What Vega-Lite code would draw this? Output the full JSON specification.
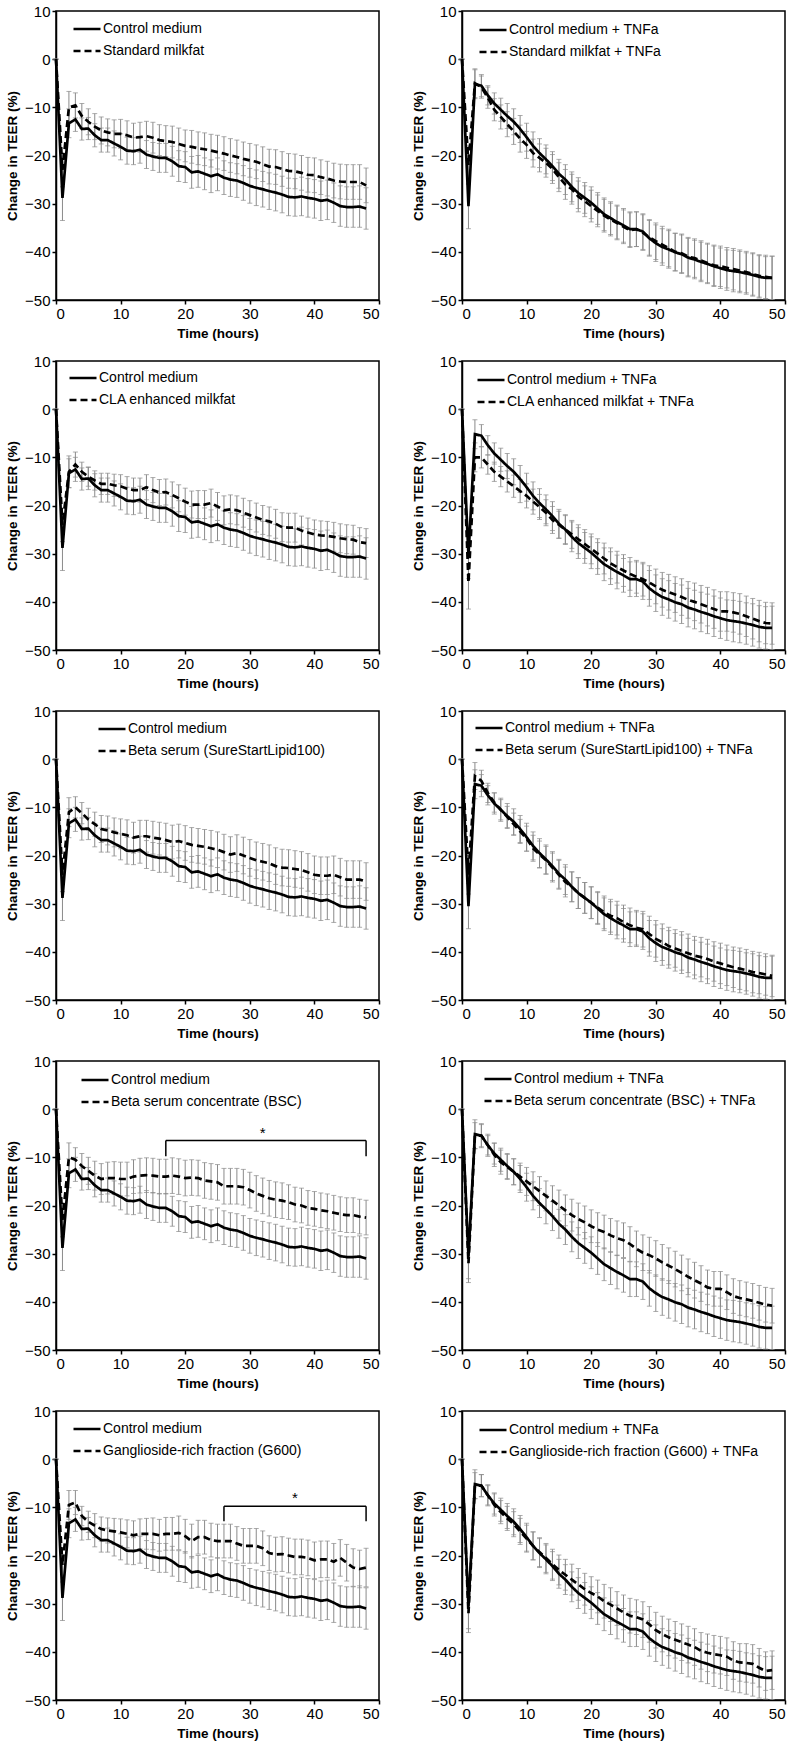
{
"$schema":"https://vega.github.io/schema/vega-lite/v6.json",
"padding":{"left":4,"top":3,"right":5,"bottom":5},
"datasets":{
"ctrl":[{"t":0,"y":0,"e":0},{"t":1,"y":-28.8,"e":4.7},{"t":2,"y":-13.3,"e":3},{"t":3,"y":-12.5,"e":2.5},{"t":4,"y":-14.5,"e":2.3},{"t":5,"y":-14.4,"e":2.3},{"t":6,"y":-15.8,"e":2.4},{"t":7,"y":-16.8,"e":2.5},{"t":8,"y":-16.8,"e":2.5},{"t":9,"y":-17.5,"e":2.6},{"t":10,"y":-18.2,"e":2.7},{"t":11,"y":-19,"e":2.8},{"t":12,"y":-19.1,"e":2.8},{"t":13,"y":-18.8,"e":2.8},{"t":14,"y":-19.8,"e":2.9},{"t":15,"y":-20.2,"e":2.9},{"t":16,"y":-20.5,"e":3},{"t":17,"y":-20.5,"e":3},{"t":18,"y":-21.2,"e":3.1},{"t":19,"y":-22.2,"e":3.2},{"t":20,"y":-22.4,"e":3.2},{"t":21,"y":-23.5,"e":3.3},{"t":22,"y":-23.3,"e":3.3},{"t":23,"y":-23.8,"e":3.3},{"t":24,"y":-24.3,"e":3.4},{"t":25,"y":-23.9,"e":3.4},{"t":26,"y":-24.6,"e":3.5},{"t":27,"y":-25,"e":3.5},{"t":28,"y":-25.2,"e":3.5},{"t":29,"y":-25.7,"e":3.6},{"t":30,"y":-26.3,"e":3.6},{"t":31,"y":-26.7,"e":3.7},{"t":32,"y":-27,"e":3.7},{"t":33,"y":-27.4,"e":3.8},{"t":34,"y":-27.7,"e":3.8},{"t":35,"y":-28.1,"e":3.8},{"t":36,"y":-28.6,"e":3.9},{"t":37,"y":-28.7,"e":3.9},{"t":38,"y":-28.5,"e":4},{"t":39,"y":-28.8,"e":4},{"t":40,"y":-29,"e":4},{"t":41,"y":-29.4,"e":4.1},{"t":42,"y":-29.2,"e":4.1},{"t":43,"y":-29.8,"e":4.1},{"t":44,"y":-30.5,"e":4.2},{"t":45,"y":-30.7,"e":4.2},{"t":46,"y":-30.7,"e":4.2},{"t":47,"y":-30.6,"e":4.3},{"t":48,"y":-31,"e":4.3}],
"smf":[{"t":0,"y":0,"e":0},{"t":1,"y":-23,"e":3.5},{"t":2,"y":-10,"e":3.3},{"t":3,"y":-9.6,"e":2.6},{"t":4,"y":-11.8,"e":2.6},{"t":5,"y":-13,"e":2.7},{"t":6,"y":-14,"e":2.7},{"t":7,"y":-14.8,"e":2.8},{"t":8,"y":-15.2,"e":2.8},{"t":9,"y":-15.5,"e":2.9},{"t":10,"y":-15.5,"e":3},{"t":11,"y":-15.8,"e":3},{"t":12,"y":-16.3,"e":3},{"t":13,"y":-16.2,"e":3.1},{"t":14,"y":-16,"e":3.1},{"t":15,"y":-16.3,"e":3.2},{"t":16,"y":-16.8,"e":3.2},{"t":17,"y":-17,"e":3.2},{"t":18,"y":-17.2,"e":3.3},{"t":19,"y":-17.6,"e":3.3},{"t":20,"y":-18,"e":3.3},{"t":21,"y":-18.2,"e":3.4},{"t":22,"y":-18.5,"e":3.4},{"t":23,"y":-18.7,"e":3.4},{"t":24,"y":-19,"e":3.4},{"t":25,"y":-19.3,"e":3.5},{"t":26,"y":-19.6,"e":3.5},{"t":27,"y":-20,"e":3.5},{"t":28,"y":-20.3,"e":3.5},{"t":29,"y":-20.7,"e":3.5},{"t":30,"y":-21,"e":3.5},{"t":31,"y":-21.3,"e":3.5},{"t":32,"y":-21.8,"e":3.6},{"t":33,"y":-22.3,"e":3.6},{"t":34,"y":-22.4,"e":3.6},{"t":35,"y":-22.8,"e":3.6},{"t":36,"y":-23.2,"e":3.6},{"t":37,"y":-23.3,"e":3.6},{"t":38,"y":-23.6,"e":3.6},{"t":39,"y":-24,"e":3.6},{"t":40,"y":-24.1,"e":3.6},{"t":41,"y":-24.5,"e":3.6},{"t":42,"y":-24.8,"e":3.6},{"t":43,"y":-25.2,"e":3.6},{"t":44,"y":-25.4,"e":3.6},{"t":45,"y":-25.5,"e":3.6},{"t":46,"y":-25.5,"e":3.6},{"t":47,"y":-25.5,"e":3.6},{"t":48,"y":-26.2,"e":3.6}],
"cla":[{"t":0,"y":0,"e":0},{"t":1,"y":-24,"e":3.5},{"t":2,"y":-13,"e":3.3},{"t":3,"y":-11.5,"e":2.6},{"t":4,"y":-13,"e":2},{"t":5,"y":-14,"e":2},{"t":6,"y":-14.8,"e":2},{"t":7,"y":-15.5,"e":2.2},{"t":8,"y":-15.5,"e":2.2},{"t":9,"y":-15.8,"e":2.3},{"t":10,"y":-16,"e":2.4},{"t":11,"y":-16.5,"e":2.5},{"t":12,"y":-16.8,"e":2.5},{"t":13,"y":-16.8,"e":2.5},{"t":14,"y":-16.2,"e":2.6},{"t":15,"y":-16.8,"e":2.6},{"t":16,"y":-17.3,"e":2.7},{"t":17,"y":-17.2,"e":2.7},{"t":18,"y":-17.8,"e":2.7},{"t":19,"y":-18.5,"e":2.8},{"t":20,"y":-19.2,"e":2.8},{"t":21,"y":-19.8,"e":2.8},{"t":22,"y":-19.8,"e":2.9},{"t":23,"y":-19.8,"e":2.9},{"t":24,"y":-19.5,"e":2.9},{"t":25,"y":-20.2,"e":2.9},{"t":26,"y":-21,"e":3},{"t":27,"y":-20.8,"e":3},{"t":28,"y":-21,"e":3},{"t":29,"y":-21.5,"e":3},{"t":30,"y":-22,"e":3},{"t":31,"y":-22.5,"e":3},{"t":32,"y":-23,"e":3},{"t":33,"y":-23.3,"e":3},{"t":34,"y":-23.8,"e":3},{"t":35,"y":-24.5,"e":3},{"t":36,"y":-24.6,"e":3},{"t":37,"y":-24.6,"e":3},{"t":38,"y":-25.2,"e":3},{"t":39,"y":-25.6,"e":3},{"t":40,"y":-26,"e":3},{"t":41,"y":-26.2,"e":3},{"t":42,"y":-26.3,"e":3},{"t":43,"y":-26.5,"e":3},{"t":44,"y":-26.8,"e":3},{"t":45,"y":-27,"e":3},{"t":46,"y":-27.1,"e":3},{"t":47,"y":-27.6,"e":3},{"t":48,"y":-27.8,"e":3}],
"bs":[{"t":0,"y":0,"e":0},{"t":1,"y":-24,"e":3.5},{"t":2,"y":-11,"e":3},{"t":3,"y":-10,"e":2.2},{"t":4,"y":-11.2,"e":2.2},{"t":5,"y":-12.5,"e":2.3},{"t":6,"y":-13.5,"e":2.5},{"t":7,"y":-14.5,"e":2.8},{"t":8,"y":-14.8,"e":3},{"t":9,"y":-15.2,"e":3},{"t":10,"y":-15.5,"e":3.1},{"t":11,"y":-15.8,"e":3.2},{"t":12,"y":-16.3,"e":3.2},{"t":13,"y":-16,"e":3.3},{"t":14,"y":-16,"e":3.3},{"t":15,"y":-16.3,"e":3.4},{"t":16,"y":-16.5,"e":3.4},{"t":17,"y":-16.8,"e":3.5},{"t":18,"y":-17.2,"e":3.5},{"t":19,"y":-17,"e":3.5},{"t":20,"y":-17.4,"e":3.6},{"t":21,"y":-17.8,"e":3.6},{"t":22,"y":-18,"e":3.6},{"t":23,"y":-18.2,"e":3.6},{"t":24,"y":-18.5,"e":3.7},{"t":25,"y":-18.8,"e":3.7},{"t":26,"y":-19.3,"e":3.7},{"t":27,"y":-19.8,"e":3.7},{"t":28,"y":-19.5,"e":3.8},{"t":29,"y":-20,"e":3.8},{"t":30,"y":-20.5,"e":3.8},{"t":31,"y":-21,"e":3.8},{"t":32,"y":-21.3,"e":3.8},{"t":33,"y":-21.6,"e":3.8},{"t":34,"y":-22.2,"e":3.8},{"t":35,"y":-22.5,"e":3.8},{"t":36,"y":-22.6,"e":3.8},{"t":37,"y":-22.8,"e":3.8},{"t":38,"y":-23,"e":3.8},{"t":39,"y":-23.5,"e":3.9},{"t":40,"y":-24,"e":3.9},{"t":41,"y":-24.2,"e":3.9},{"t":42,"y":-24.2,"e":3.9},{"t":43,"y":-24,"e":3.9},{"t":44,"y":-24.5,"e":3.9},{"t":45,"y":-25,"e":3.9},{"t":46,"y":-25,"e":3.9},{"t":47,"y":-25,"e":3.9},{"t":48,"y":-25.4,"e":3.9}],
"bsc":[{"t":0,"y":0,"e":0},{"t":1,"y":-23,"e":3.5},{"t":2,"y":-10,"e":3},{"t":3,"y":-10.5,"e":2.5},{"t":4,"y":-11.8,"e":2.6},{"t":5,"y":-12.8,"e":2.8},{"t":6,"y":-13.8,"e":3},{"t":7,"y":-14.5,"e":3.2},{"t":8,"y":-14.3,"e":3.3},{"t":9,"y":-14.3,"e":3.4},{"t":10,"y":-14.5,"e":3.5},{"t":11,"y":-14.5,"e":3.5},{"t":12,"y":-14,"e":3.5},{"t":13,"y":-13.8,"e":3.6},{"t":14,"y":-13.7,"e":3.6},{"t":15,"y":-13.8,"e":3.6},{"t":16,"y":-14,"e":3.6},{"t":17,"y":-14,"e":3.6},{"t":18,"y":-13.8,"e":3.7},{"t":19,"y":-14,"e":3.7},{"t":20,"y":-14.3,"e":3.7},{"t":21,"y":-14.2,"e":3.7},{"t":22,"y":-14.3,"e":3.7},{"t":23,"y":-14.8,"e":3.7},{"t":24,"y":-15,"e":3.7},{"t":25,"y":-15.2,"e":3.7},{"t":26,"y":-16,"e":3.7},{"t":27,"y":-16,"e":3.7},{"t":28,"y":-16,"e":3.7},{"t":29,"y":-16.2,"e":3.7},{"t":30,"y":-16.8,"e":3.7},{"t":31,"y":-17.5,"e":3.7},{"t":32,"y":-18,"e":3.7},{"t":33,"y":-18.5,"e":3.7},{"t":34,"y":-18.8,"e":3.7},{"t":35,"y":-19,"e":3.7},{"t":36,"y":-19.3,"e":3.6},{"t":37,"y":-19.8,"e":3.6},{"t":38,"y":-20,"e":3.6},{"t":39,"y":-20.5,"e":3.6},{"t":40,"y":-20.7,"e":3.6},{"t":41,"y":-21,"e":3.6},{"t":42,"y":-21.2,"e":3.6},{"t":43,"y":-21.5,"e":3.6},{"t":44,"y":-21.8,"e":3.6},{"t":45,"y":-22,"e":3.6},{"t":46,"y":-22,"e":3.6},{"t":47,"y":-22.3,"e":3.6},{"t":48,"y":-22.5,"e":3.6}],
"g6":[{"t":0,"y":0,"e":0},{"t":1,"y":-22,"e":3.5},{"t":2,"y":-9.5,"e":3},{"t":3,"y":-9,"e":2.5},{"t":4,"y":-11.8,"e":2},{"t":5,"y":-13,"e":2.2},{"t":6,"y":-13.8,"e":2.5},{"t":7,"y":-14.5,"e":2.5},{"t":8,"y":-14.8,"e":2.6},{"t":9,"y":-15,"e":2.7},{"t":10,"y":-15.2,"e":2.8},{"t":11,"y":-15.5,"e":2.9},{"t":12,"y":-15.8,"e":3},{"t":13,"y":-15.5,"e":3.1},{"t":14,"y":-15.5,"e":3.2},{"t":15,"y":-15.5,"e":3.3},{"t":16,"y":-15.8,"e":3.3},{"t":17,"y":-15.5,"e":3.4},{"t":18,"y":-15.5,"e":3.4},{"t":19,"y":-15.3,"e":3.5},{"t":20,"y":-16,"e":3.5},{"t":21,"y":-17,"e":3.5},{"t":22,"y":-16.2,"e":3.5},{"t":23,"y":-16.2,"e":3.5},{"t":24,"y":-16.8,"e":3.5},{"t":25,"y":-17,"e":3.5},{"t":26,"y":-17,"e":3.5},{"t":27,"y":-17,"e":3.5},{"t":28,"y":-17.5,"e":3.5},{"t":29,"y":-18,"e":3.6},{"t":30,"y":-18,"e":3.6},{"t":31,"y":-18,"e":3.6},{"t":32,"y":-18.5,"e":3.6},{"t":33,"y":-19.5,"e":3.6},{"t":34,"y":-19.8,"e":3.6},{"t":35,"y":-19.7,"e":3.6},{"t":36,"y":-20,"e":3.6},{"t":37,"y":-20.3,"e":3.7},{"t":38,"y":-20.3,"e":3.7},{"t":39,"y":-20.5,"e":3.7},{"t":40,"y":-21,"e":3.8},{"t":41,"y":-20.8,"e":3.8},{"t":42,"y":-20.8,"e":3.8},{"t":43,"y":-21.3,"e":3.8},{"t":44,"y":-20.5,"e":3.8},{"t":45,"y":-21.5,"e":3.8},{"t":46,"y":-22.5,"e":3.9},{"t":47,"y":-22.8,"e":3.9},{"t":48,"y":-22.5,"e":4}],
"ctrlT":[{"t":0,"y":0,"e":0},{"t":1,"y":-30.5,"e":4.7},{"t":2,"y":-5.2,"e":3},{"t":3,"y":-5.5,"e":2.3},{"t":4,"y":-7.5,"e":2},{"t":5,"y":-9.2,"e":2.2},{"t":6,"y":-10.5,"e":2.4},{"t":7,"y":-11.8,"e":2.6},{"t":8,"y":-13,"e":2.7},{"t":9,"y":-14.5,"e":2.8},{"t":10,"y":-16.2,"e":2.9},{"t":11,"y":-18,"e":2.9},{"t":12,"y":-19.5,"e":3},{"t":13,"y":-20.8,"e":3},{"t":14,"y":-22.2,"e":3},{"t":15,"y":-23.8,"e":3},{"t":16,"y":-25,"e":3.1},{"t":17,"y":-26.5,"e":3.1},{"t":18,"y":-27.8,"e":3.2},{"t":19,"y":-28.8,"e":3.2},{"t":20,"y":-29.8,"e":3.3},{"t":21,"y":-31,"e":3.3},{"t":22,"y":-32.2,"e":3.4},{"t":23,"y":-33,"e":3.4},{"t":24,"y":-33.8,"e":3.5},{"t":25,"y":-34.5,"e":3.5},{"t":26,"y":-35.3,"e":3.6},{"t":27,"y":-35.3,"e":3.6},{"t":28,"y":-35.8,"e":3.7},{"t":29,"y":-37.2,"e":3.7},{"t":30,"y":-38.2,"e":3.8},{"t":31,"y":-39,"e":3.8},{"t":32,"y":-39.5,"e":3.9},{"t":33,"y":-40.1,"e":3.9},{"t":34,"y":-40.5,"e":4},{"t":35,"y":-41.2,"e":4},{"t":36,"y":-41.6,"e":4},{"t":37,"y":-42.1,"e":4.1},{"t":38,"y":-42.5,"e":4.1},{"t":39,"y":-43,"e":4.2},{"t":40,"y":-43.4,"e":4.2},{"t":41,"y":-43.8,"e":4.2},{"t":42,"y":-44,"e":4.3},{"t":43,"y":-44.2,"e":4.3},{"t":44,"y":-44.5,"e":4.3},{"t":45,"y":-44.8,"e":4.4},{"t":46,"y":-45.2,"e":4.4},{"t":47,"y":-45.4,"e":4.4},{"t":48,"y":-45.4,"e":4.5}],
"smfT":[{"t":0,"y":0,"e":0},{"t":1,"y":-22,"e":4},{"t":2,"y":-5,"e":3},{"t":3,"y":-5.8,"e":2.3},{"t":4,"y":-8,"e":2.2},{"t":5,"y":-10.5,"e":2.3},{"t":6,"y":-12,"e":2.5},{"t":7,"y":-13.5,"e":2.6},{"t":8,"y":-15,"e":2.7},{"t":9,"y":-16.5,"e":2.8},{"t":10,"y":-17.8,"e":2.8},{"t":11,"y":-19.5,"e":2.9},{"t":12,"y":-20.5,"e":2.9},{"t":13,"y":-21.5,"e":3},{"t":14,"y":-22.8,"e":3},{"t":15,"y":-24.5,"e":3},{"t":16,"y":-26,"e":3.1},{"t":17,"y":-27,"e":3.1},{"t":18,"y":-28.5,"e":3.2},{"t":19,"y":-29.5,"e":3.2},{"t":20,"y":-30.5,"e":3.3},{"t":21,"y":-31.5,"e":3.3},{"t":22,"y":-32.5,"e":3.4},{"t":23,"y":-33.3,"e":3.4},{"t":24,"y":-34,"e":3.5},{"t":25,"y":-34.8,"e":3.5},{"t":26,"y":-35.5,"e":3.6},{"t":27,"y":-35.3,"e":3.6},{"t":28,"y":-36,"e":3.7},{"t":29,"y":-37,"e":3.7},{"t":30,"y":-37.8,"e":3.8},{"t":31,"y":-38.5,"e":3.8},{"t":32,"y":-39.2,"e":3.9},{"t":33,"y":-40,"e":3.9},{"t":34,"y":-40.3,"e":4},{"t":35,"y":-41,"e":4},{"t":36,"y":-41.3,"e":4},{"t":37,"y":-41.8,"e":4.1},{"t":38,"y":-42.3,"e":4.1},{"t":39,"y":-42.8,"e":4.2},{"t":40,"y":-43,"e":4.2},{"t":41,"y":-43.3,"e":4.2},{"t":42,"y":-43.6,"e":4.3},{"t":43,"y":-43.9,"e":4.3},{"t":44,"y":-44.2,"e":4.3},{"t":45,"y":-44.6,"e":4.4},{"t":46,"y":-45,"e":4.4},{"t":47,"y":-45.2,"e":4.5},{"t":48,"y":-45.4,"e":4.5}],
"claT":[{"t":0,"y":0,"e":0},{"t":1,"y":-36,"e":5.5},{"t":2,"y":-10,"e":3},{"t":3,"y":-10,"e":2.2},{"t":4,"y":-11.5,"e":2},{"t":5,"y":-13,"e":2},{"t":6,"y":-14,"e":2.1},{"t":7,"y":-15,"e":2.2},{"t":8,"y":-16,"e":2.3},{"t":9,"y":-17,"e":2.4},{"t":10,"y":-18,"e":2.5},{"t":11,"y":-19.2,"e":2.6},{"t":12,"y":-20.3,"e":2.6},{"t":13,"y":-21.5,"e":2.7},{"t":14,"y":-23,"e":2.8},{"t":15,"y":-24,"e":2.8},{"t":16,"y":-25,"e":2.9},{"t":17,"y":-26,"e":2.9},{"t":18,"y":-27,"e":3},{"t":19,"y":-28,"e":3},{"t":20,"y":-29,"e":3.1},{"t":21,"y":-30,"e":3.1},{"t":22,"y":-31,"e":3.2},{"t":23,"y":-32,"e":3.2},{"t":24,"y":-32.8,"e":3.3},{"t":25,"y":-33.5,"e":3.3},{"t":26,"y":-34.2,"e":3.4},{"t":27,"y":-34.8,"e":3.4},{"t":28,"y":-35.3,"e":3.5},{"t":29,"y":-36,"e":3.5},{"t":30,"y":-36.8,"e":3.6},{"t":31,"y":-37.5,"e":3.6},{"t":32,"y":-38,"e":3.7},{"t":33,"y":-38.5,"e":3.7},{"t":34,"y":-39,"e":3.8},{"t":35,"y":-39.6,"e":3.8},{"t":36,"y":-40,"e":3.9},{"t":37,"y":-40.5,"e":3.9},{"t":38,"y":-41,"e":4},{"t":39,"y":-41.5,"e":4},{"t":40,"y":-42,"e":4.1},{"t":41,"y":-42,"e":4.1},{"t":42,"y":-42.2,"e":4.1},{"t":43,"y":-42.5,"e":4.2},{"t":44,"y":-43,"e":4.2},{"t":45,"y":-43.5,"e":4.2},{"t":46,"y":-44,"e":4.3},{"t":47,"y":-44.4,"e":4.3},{"t":48,"y":-44.5,"e":4.3}],
"bsT":[{"t":0,"y":0,"e":0},{"t":1,"y":-24,"e":4},{"t":2,"y":-3.5,"e":2.8},{"t":3,"y":-4.5,"e":2.2},{"t":4,"y":-7,"e":2},{"t":5,"y":-9,"e":2},{"t":6,"y":-10.5,"e":2.1},{"t":7,"y":-12,"e":2.2},{"t":8,"y":-13.5,"e":2.3},{"t":9,"y":-15,"e":2.5},{"t":10,"y":-16.5,"e":2.6},{"t":11,"y":-18.5,"e":2.7},{"t":12,"y":-19.8,"e":2.8},{"t":13,"y":-21,"e":2.9},{"t":14,"y":-22.5,"e":3},{"t":15,"y":-24,"e":3},{"t":16,"y":-25.5,"e":3.1},{"t":17,"y":-26.5,"e":3.1},{"t":18,"y":-27.8,"e":3.2},{"t":19,"y":-28.8,"e":3.2},{"t":20,"y":-29.8,"e":3.3},{"t":21,"y":-30.8,"e":3.3},{"t":22,"y":-31.8,"e":3.4},{"t":23,"y":-32.5,"e":3.4},{"t":24,"y":-33,"e":3.5},{"t":25,"y":-33.8,"e":3.5},{"t":26,"y":-34.5,"e":3.6},{"t":27,"y":-35,"e":3.6},{"t":28,"y":-35.3,"e":3.7},{"t":29,"y":-36.3,"e":3.7},{"t":30,"y":-37.3,"e":3.8},{"t":31,"y":-38,"e":3.8},{"t":32,"y":-38.8,"e":3.9},{"t":33,"y":-39.3,"e":3.9},{"t":34,"y":-39.8,"e":4},{"t":35,"y":-40.3,"e":4},{"t":36,"y":-40.8,"e":4},{"t":37,"y":-41.1,"e":4.1},{"t":38,"y":-41.5,"e":4.1},{"t":39,"y":-42,"e":4.1},{"t":40,"y":-42.4,"e":4.2},{"t":41,"y":-42.8,"e":4.2},{"t":42,"y":-43.2,"e":4.2},{"t":43,"y":-43.5,"e":4.3},{"t":44,"y":-43.8,"e":4.3},{"t":45,"y":-44.2,"e":4.3},{"t":46,"y":-44.4,"e":4.3},{"t":47,"y":-44.7,"e":4.3},{"t":48,"y":-45,"e":4.3}],
"bscT":[{"t":0,"y":0,"e":0},{"t":1,"y":-32,"e":4},{"t":2,"y":-5.5,"e":2.7},{"t":3,"y":-5.5,"e":2.5},{"t":4,"y":-7.5,"e":2.3},{"t":5,"y":-9.5,"e":2.4},{"t":6,"y":-11,"e":2.5},{"t":7,"y":-12,"e":2.6},{"t":8,"y":-13,"e":2.7},{"t":9,"y":-14,"e":2.8},{"t":10,"y":-15,"e":2.9},{"t":11,"y":-16,"e":3},{"t":12,"y":-17,"e":3},{"t":13,"y":-18,"e":3.1},{"t":14,"y":-19,"e":3.1},{"t":15,"y":-20,"e":3.2},{"t":16,"y":-21,"e":3.2},{"t":17,"y":-22,"e":3.3},{"t":18,"y":-22.8,"e":3.3},{"t":19,"y":-23.5,"e":3.4},{"t":20,"y":-24.3,"e":3.4},{"t":21,"y":-25,"e":3.5},{"t":22,"y":-25.5,"e":3.5},{"t":23,"y":-26.2,"e":3.5},{"t":24,"y":-26.8,"e":3.6},{"t":25,"y":-27.2,"e":3.6},{"t":26,"y":-28,"e":3.6},{"t":27,"y":-29,"e":3.7},{"t":28,"y":-29.8,"e":3.7},{"t":29,"y":-30.3,"e":3.7},{"t":30,"y":-31,"e":3.7},{"t":31,"y":-31.8,"e":3.7},{"t":32,"y":-32.5,"e":3.7},{"t":33,"y":-33.2,"e":3.7},{"t":34,"y":-34,"e":3.7},{"t":35,"y":-34.8,"e":3.7},{"t":36,"y":-35.5,"e":3.7},{"t":37,"y":-36.2,"e":3.7},{"t":38,"y":-37,"e":3.6},{"t":39,"y":-37.3,"e":3.6},{"t":40,"y":-37.3,"e":3.6},{"t":41,"y":-38,"e":3.6},{"t":42,"y":-38.8,"e":3.6},{"t":43,"y":-39.2,"e":3.6},{"t":44,"y":-39.5,"e":3.6},{"t":45,"y":-39.8,"e":3.6},{"t":46,"y":-40.2,"e":3.6},{"t":47,"y":-40.6,"e":3.6},{"t":48,"y":-40.8,"e":3.6}],
"g6T":[{"t":0,"y":0,"e":0},{"t":1,"y":-32,"e":4},{"t":2,"y":-5.5,"e":2.7},{"t":3,"y":-5.5,"e":2.3},{"t":4,"y":-7.5,"e":2.2},{"t":5,"y":-9.5,"e":2.3},{"t":6,"y":-11,"e":2.4},{"t":7,"y":-12.3,"e":2.5},{"t":8,"y":-13.5,"e":2.6},{"t":9,"y":-15,"e":2.7},{"t":10,"y":-16.5,"e":2.8},{"t":11,"y":-18,"e":2.9},{"t":12,"y":-19.3,"e":3},{"t":13,"y":-20.5,"e":3},{"t":14,"y":-21.8,"e":3.1},{"t":15,"y":-23,"e":3.1},{"t":16,"y":-24,"e":3.2},{"t":17,"y":-25,"e":3.2},{"t":18,"y":-26,"e":3.3},{"t":19,"y":-27,"e":3.3},{"t":20,"y":-27.8,"e":3.4},{"t":21,"y":-28.5,"e":3.4},{"t":22,"y":-29.5,"e":3.5},{"t":23,"y":-30.2,"e":3.5},{"t":24,"y":-31,"e":3.5},{"t":25,"y":-31.8,"e":3.6},{"t":26,"y":-32.5,"e":3.6},{"t":27,"y":-32.8,"e":3.6},{"t":28,"y":-33.3,"e":3.7},{"t":29,"y":-34.3,"e":3.7},{"t":30,"y":-35.5,"e":3.7},{"t":31,"y":-36.3,"e":3.7},{"t":32,"y":-37,"e":3.8},{"t":33,"y":-37.5,"e":3.8},{"t":34,"y":-38,"e":3.8},{"t":35,"y":-38.5,"e":3.8},{"t":36,"y":-39,"e":3.8},{"t":37,"y":-39.8,"e":3.8},{"t":38,"y":-40.2,"e":3.9},{"t":39,"y":-40.5,"e":3.9},{"t":40,"y":-40.7,"e":3.9},{"t":41,"y":-41,"e":3.9},{"t":42,"y":-41.8,"e":3.9},{"t":43,"y":-42.2,"e":3.9},{"t":44,"y":-42.3,"e":4},{"t":45,"y":-42.5,"e":4},{"t":46,"y":-43.3,"e":4},{"t":47,"y":-44,"e":4},{"t":48,"y":-43.8,"e":4}],
"bk4":[{"t":17,"t2":48,"y":-6.5,"y2":-6.5},{"t":17,"t2":17,"y":-6.5,"y2":-9.8},{"t":48,"t2":48,"y":-6.5,"y2":-9.8}],
"st4":[{"t":32,"y":-5.0,"s":"*"}],
"bk5":[{"t":26,"t2":48,"y":-9.8,"y2":-9.8},{"t":26,"t2":26,"y":-9.8,"y2":-12.9},{"t":48,"t2":48,"y":-9.8,"y2":-12.9}],
"st5":[{"t":37,"y":-8.1,"s":"*"}]
},
"spacing":12,
"resolve":{"scale":{"strokeDash":"independent"}},
"vconcat":[
{"hconcat":[
{"width":323,"height":289,
 "encoding":{"x":{"field":"t","type":"quantitative","scale":{"domain":[0,50],"nice":false},"axis":{"title":"Time (hours)","values":[0,10,20,30,40,50]}},"y":{"field":"y","type":"quantitative","scale":{"domain":[-50,10],"nice":false},"axis":{"title":"Change in TEER (%)","values":[-50,-40,-30,-20,-10,0,10]}}},
 "layer":[
  {"data":{"name":"ctrl"},"mark":{"type":"errorbar","ticks":{"size":5,"thickness":1,"color":"#8a8a8a"},"rule":{"color":"#8a8a8a","strokeWidth":1}},"encoding":{"yError":{"field":"e"}}},
  {"data":{"name":"smf"},"mark":{"type":"errorbar","ticks":{"size":5,"thickness":1,"color":"#8a8a8a"},"rule":{"color":"#8a8a8a","strokeWidth":1}},"encoding":{"yError":{"field":"e"}}},
  {"data":{"name":"ctrl"},"mark":{"type":"line","color":"black","strokeWidth":2.7},"encoding":{"strokeDash":{"datum":"Control medium","scale":{"range":[[1,0],[7,4]]},"legend":{"title":null,"orient":"none","legendX":16,"legendY":3}}}},
  {"data":{"name":"smf"},"mark":{"type":"line","color":"black","strokeWidth":2.7},"encoding":{"strokeDash":{"datum":"Standard milkfat"}}}
 ]},
{"width":323,"height":289,
 "encoding":{"x":{"field":"t","type":"quantitative","scale":{"domain":[0,50],"nice":false},"axis":{"title":"Time (hours)","values":[0,10,20,30,40,50]}},"y":{"field":"y","type":"quantitative","scale":{"domain":[-50,10],"nice":false},"axis":{"title":"Change in TEER (%)","values":[-50,-40,-30,-20,-10,0,10]}}},
 "layer":[
  {"data":{"name":"ctrlT"},"mark":{"type":"errorbar","ticks":{"size":5,"thickness":1,"color":"#8a8a8a"},"rule":{"color":"#8a8a8a","strokeWidth":1}},"encoding":{"yError":{"field":"e"}}},
  {"data":{"name":"smfT"},"mark":{"type":"errorbar","ticks":{"size":5,"thickness":1,"color":"#8a8a8a"},"rule":{"color":"#8a8a8a","strokeWidth":1}},"encoding":{"yError":{"field":"e"}}},
  {"data":{"name":"ctrlT"},"mark":{"type":"line","color":"black","strokeWidth":2.7},"encoding":{"strokeDash":{"datum":"Control medium + TNFa","scale":{"range":[[1,0],[7,4]]},"legend":{"title":null,"orient":"none","legendX":16,"legendY":4}}}},
  {"data":{"name":"smfT"},"mark":{"type":"line","color":"black","strokeWidth":2.7},"encoding":{"strokeDash":{"datum":"Standard milkfat + TNFa"}}}
 ]}
],"spacing":83,"bounds":"flush","resolve":{"scale":{"strokeDash":"independent"}}},
{"hconcat":[
{"width":323,"height":289,
 "encoding":{"x":{"field":"t","type":"quantitative","scale":{"domain":[0,50],"nice":false},"axis":{"title":"Time (hours)","values":[0,10,20,30,40,50]}},"y":{"field":"y","type":"quantitative","scale":{"domain":[-50,10],"nice":false},"axis":{"title":"Change in TEER (%)","values":[-50,-40,-30,-20,-10,0,10]}}},
 "layer":[
  {"data":{"name":"ctrl"},"mark":{"type":"errorbar","ticks":{"size":5,"thickness":1,"color":"#8a8a8a"},"rule":{"color":"#8a8a8a","strokeWidth":1}},"encoding":{"yError":{"field":"e"}}},
  {"data":{"name":"cla"},"mark":{"type":"errorbar","ticks":{"size":5,"thickness":1,"color":"#8a8a8a"},"rule":{"color":"#8a8a8a","strokeWidth":1}},"encoding":{"yError":{"field":"e"}}},
  {"data":{"name":"ctrl"},"mark":{"type":"line","color":"black","strokeWidth":2.7},"encoding":{"strokeDash":{"datum":"Control medium","scale":{"range":[[1,0],[7,4]]},"legend":{"title":null,"orient":"none","legendX":12,"legendY":2}}}},
  {"data":{"name":"cla"},"mark":{"type":"line","color":"black","strokeWidth":2.7},"encoding":{"strokeDash":{"datum":"CLA enhanced milkfat"}}}
 ]},
{"width":323,"height":289,
 "encoding":{"x":{"field":"t","type":"quantitative","scale":{"domain":[0,50],"nice":false},"axis":{"title":"Time (hours)","values":[0,10,20,30,40,50]}},"y":{"field":"y","type":"quantitative","scale":{"domain":[-50,10],"nice":false},"axis":{"title":"Change in TEER (%)","values":[-50,-40,-30,-20,-10,0,10]}}},
 "layer":[
  {"data":{"name":"ctrlT"},"mark":{"type":"errorbar","ticks":{"size":5,"thickness":1,"color":"#8a8a8a"},"rule":{"color":"#8a8a8a","strokeWidth":1}},"encoding":{"yError":{"field":"e"}}},
  {"data":{"name":"claT"},"mark":{"type":"errorbar","ticks":{"size":5,"thickness":1,"color":"#8a8a8a"},"rule":{"color":"#8a8a8a","strokeWidth":1}},"encoding":{"yError":{"field":"e"}}},
  {"data":{"name":"ctrlT"},"mark":{"type":"line","color":"black","strokeWidth":2.7},"encoding":{"strokeDash":{"datum":"Control medium + TNFa","scale":{"range":[[1,0],[7,4]]},"legend":{"title":null,"orient":"none","legendX":14,"legendY":4}}}},
  {"data":{"name":"claT"},"mark":{"type":"line","color":"black","strokeWidth":2.7},"encoding":{"strokeDash":{"datum":"CLA enhanced milkfat + TNFa"}}}
 ]}
],"spacing":83,"bounds":"flush","resolve":{"scale":{"strokeDash":"independent"}}},
{"hconcat":[
{"width":323,"height":289,
 "encoding":{"x":{"field":"t","type":"quantitative","scale":{"domain":[0,50],"nice":false},"axis":{"title":"Time (hours)","values":[0,10,20,30,40,50]}},"y":{"field":"y","type":"quantitative","scale":{"domain":[-50,10],"nice":false},"axis":{"title":"Change in TEER (%)","values":[-50,-40,-30,-20,-10,0,10]}}},
 "layer":[
  {"data":{"name":"ctrl"},"mark":{"type":"errorbar","ticks":{"size":5,"thickness":1,"color":"#8a8a8a"},"rule":{"color":"#8a8a8a","strokeWidth":1}},"encoding":{"yError":{"field":"e"}}},
  {"data":{"name":"bs"},"mark":{"type":"errorbar","ticks":{"size":5,"thickness":1,"color":"#8a8a8a"},"rule":{"color":"#8a8a8a","strokeWidth":1}},"encoding":{"yError":{"field":"e"}}},
  {"data":{"name":"ctrl"},"mark":{"type":"line","color":"black","strokeWidth":2.7},"encoding":{"strokeDash":{"datum":"Control medium","scale":{"range":[[1,0],[7,4]]},"legend":{"title":null,"orient":"none","legendX":41,"legendY":3}}}},
  {"data":{"name":"bs"},"mark":{"type":"line","color":"black","strokeWidth":2.7},"encoding":{"strokeDash":{"datum":"Beta serum (SureStartLipid100)"}}}
 ]},
{"width":323,"height":289,
 "encoding":{"x":{"field":"t","type":"quantitative","scale":{"domain":[0,50],"nice":false},"axis":{"title":"Time (hours)","values":[0,10,20,30,40,50]}},"y":{"field":"y","type":"quantitative","scale":{"domain":[-50,10],"nice":false},"axis":{"title":"Change in TEER (%)","values":[-50,-40,-30,-20,-10,0,10]}}},
 "layer":[
  {"data":{"name":"ctrlT"},"mark":{"type":"errorbar","ticks":{"size":5,"thickness":1,"color":"#8a8a8a"},"rule":{"color":"#8a8a8a","strokeWidth":1}},"encoding":{"yError":{"field":"e"}}},
  {"data":{"name":"bsT"},"mark":{"type":"errorbar","ticks":{"size":5,"thickness":1,"color":"#8a8a8a"},"rule":{"color":"#8a8a8a","strokeWidth":1}},"encoding":{"yError":{"field":"e"}}},
  {"data":{"name":"ctrlT"},"mark":{"type":"line","color":"black","strokeWidth":2.7},"encoding":{"strokeDash":{"datum":"Control medium + TNFa","scale":{"range":[[1,0],[7,4]]},"legend":{"title":null,"orient":"none","legendX":12,"legendY":2}}}},
  {"data":{"name":"bsT"},"mark":{"type":"line","color":"black","strokeWidth":2.7},"encoding":{"strokeDash":{"datum":"Beta serum (SureStartLipid100) + TNFa"}}}
 ]}
],"spacing":83,"bounds":"flush","resolve":{"scale":{"strokeDash":"independent"}}},
{"hconcat":[
{"width":323,"height":289,
 "encoding":{"x":{"field":"t","type":"quantitative","scale":{"domain":[0,50],"nice":false},"axis":{"title":"Time (hours)","values":[0,10,20,30,40,50]}},"y":{"field":"y","type":"quantitative","scale":{"domain":[-50,10],"nice":false},"axis":{"title":"Change in TEER (%)","values":[-50,-40,-30,-20,-10,0,10]}}},
 "layer":[
  {"data":{"name":"ctrl"},"mark":{"type":"errorbar","ticks":{"size":5,"thickness":1,"color":"#8a8a8a"},"rule":{"color":"#8a8a8a","strokeWidth":1}},"encoding":{"yError":{"field":"e"}}},
  {"data":{"name":"bsc"},"mark":{"type":"errorbar","ticks":{"size":5,"thickness":1,"color":"#8a8a8a"},"rule":{"color":"#8a8a8a","strokeWidth":1}},"encoding":{"yError":{"field":"e"}}},
  {"data":{"name":"ctrl"},"mark":{"type":"line","color":"black","strokeWidth":2.7},"encoding":{"strokeDash":{"datum":"Control medium","scale":{"range":[[1,0],[7,4]]},"legend":{"title":null,"orient":"none","legendX":24,"legendY":4}}}},
  {"data":{"name":"bsc"},"mark":{"type":"line","color":"black","strokeWidth":2.7},"encoding":{"strokeDash":{"datum":"Beta serum concentrate (BSC)"}}},
  {"data":{"name":"bk4"},"mark":{"type":"rule","color":"black","strokeWidth":1.5},"encoding":{"x2":{"field":"t2"},"y2":{"field":"y2"}}},
  {"data":{"name":"st4"},"mark":{"type":"text","fontSize":15,"color":"black","baseline":"middle"},"encoding":{"text":{"field":"s"}}}
 ]},
{"width":323,"height":289,
 "encoding":{"x":{"field":"t","type":"quantitative","scale":{"domain":[0,50],"nice":false},"axis":{"title":"Time (hours)","values":[0,10,20,30,40,50]}},"y":{"field":"y","type":"quantitative","scale":{"domain":[-50,10],"nice":false},"axis":{"title":"Change in TEER (%)","values":[-50,-40,-30,-20,-10,0,10]}}},
 "layer":[
  {"data":{"name":"ctrlT"},"mark":{"type":"errorbar","ticks":{"size":5,"thickness":1,"color":"#8a8a8a"},"rule":{"color":"#8a8a8a","strokeWidth":1}},"encoding":{"yError":{"field":"e"}}},
  {"data":{"name":"bscT"},"mark":{"type":"errorbar","ticks":{"size":5,"thickness":1,"color":"#8a8a8a"},"rule":{"color":"#8a8a8a","strokeWidth":1}},"encoding":{"yError":{"field":"e"}}},
  {"data":{"name":"ctrlT"},"mark":{"type":"line","color":"black","strokeWidth":2.7},"encoding":{"strokeDash":{"datum":"Control medium + TNFa","scale":{"range":[[1,0],[7,4]]},"legend":{"title":null,"orient":"none","legendX":21,"legendY":3}}}},
  {"data":{"name":"bscT"},"mark":{"type":"line","color":"black","strokeWidth":2.7},"encoding":{"strokeDash":{"datum":"Beta serum concentrate (BSC) + TNFa"}}}
 ]}
],"spacing":83,"bounds":"flush","resolve":{"scale":{"strokeDash":"independent"}}},
{"hconcat":[
{"width":323,"height":289,
 "encoding":{"x":{"field":"t","type":"quantitative","scale":{"domain":[0,50],"nice":false},"axis":{"title":"Time (hours)","values":[0,10,20,30,40,50]}},"y":{"field":"y","type":"quantitative","scale":{"domain":[-50,10],"nice":false},"axis":{"title":"Change in TEER (%)","values":[-50,-40,-30,-20,-10,0,10]}}},
 "layer":[
  {"data":{"name":"ctrl"},"mark":{"type":"errorbar","ticks":{"size":5,"thickness":1,"color":"#8a8a8a"},"rule":{"color":"#8a8a8a","strokeWidth":1}},"encoding":{"yError":{"field":"e"}}},
  {"data":{"name":"g6"},"mark":{"type":"errorbar","ticks":{"size":5,"thickness":1,"color":"#8a8a8a"},"rule":{"color":"#8a8a8a","strokeWidth":1}},"encoding":{"yError":{"field":"e"}}},
  {"data":{"name":"ctrl"},"mark":{"type":"line","color":"black","strokeWidth":2.7},"encoding":{"strokeDash":{"datum":"Control medium","scale":{"range":[[1,0],[7,4]]},"legend":{"title":null,"orient":"none","legendX":16,"legendY":3}}}},
  {"data":{"name":"g6"},"mark":{"type":"line","color":"black","strokeWidth":2.7},"encoding":{"strokeDash":{"datum":"Ganglioside-rich fraction (G600)"}}},
  {"data":{"name":"bk5"},"mark":{"type":"rule","color":"black","strokeWidth":1.5},"encoding":{"x2":{"field":"t2"},"y2":{"field":"y2"}}},
  {"data":{"name":"st5"},"mark":{"type":"text","fontSize":15,"color":"black","baseline":"middle"},"encoding":{"text":{"field":"s"}}}
 ]},
{"width":323,"height":289,
 "encoding":{"x":{"field":"t","type":"quantitative","scale":{"domain":[0,50],"nice":false},"axis":{"title":"Time (hours)","values":[0,10,20,30,40,50]}},"y":{"field":"y","type":"quantitative","scale":{"domain":[-50,10],"nice":false},"axis":{"title":"Change in TEER (%)","values":[-50,-40,-30,-20,-10,0,10]}}},
 "layer":[
  {"data":{"name":"ctrlT"},"mark":{"type":"errorbar","ticks":{"size":5,"thickness":1,"color":"#8a8a8a"},"rule":{"color":"#8a8a8a","strokeWidth":1}},"encoding":{"yError":{"field":"e"}}},
  {"data":{"name":"g6T"},"mark":{"type":"errorbar","ticks":{"size":5,"thickness":1,"color":"#8a8a8a"},"rule":{"color":"#8a8a8a","strokeWidth":1}},"encoding":{"yError":{"field":"e"}}},
  {"data":{"name":"ctrlT"},"mark":{"type":"line","color":"black","strokeWidth":2.7},"encoding":{"strokeDash":{"datum":"Control medium + TNFa","scale":{"range":[[1,0],[7,4]]},"legend":{"title":null,"orient":"none","legendX":16,"legendY":4}}}},
  {"data":{"name":"g6T"},"mark":{"type":"line","color":"black","strokeWidth":2.7},"encoding":{"strokeDash":{"datum":"Ganglioside-rich fraction (G600) + TNFa"}}}
 ]}
],"spacing":83,"bounds":"flush","resolve":{"scale":{"strokeDash":"independent"}}}
],
"config":{
 "font":"Liberation Sans",
 "background":"white",
 "view":{"stroke":"black","strokeWidth":1.5},
 "axis":{"grid":false,"domainColor":"black","domainWidth":1.5,"tickColor":"black","tickSize":4,"tickWidth":1.5,"labelColor":"black","labelFontSize":15,"labelPadding":2,"titleFontSize":13.5,"titleFontWeight":"bold","titleColor":"black"},
 "axisX":{"titlePadding":5},
 "axisY":{"titlePadding":5},
 "legend":{"labelFontSize":14,"labelColor":"black","labelLimit":400,"symbolType":"stroke","symbolSize":729,"symbolStrokeWidth":2.7,"symbolStrokeColor":"black","labelOffset":1,"rowPadding":-12,"padding":0}
}
}
